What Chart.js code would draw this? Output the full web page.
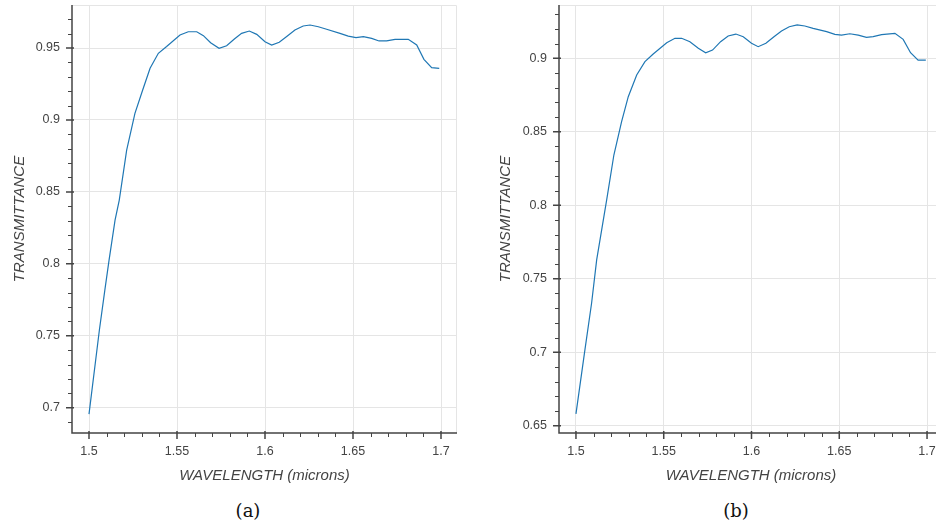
<!DOCTYPE html>
<html>
<head>
<meta charset="utf-8">
<script src="https://cdn.jsdelivr.net/npm/chart.js@4"></script>
<style>
  html, body { margin: 0; padding: 0; background: #fff; width: 936px; height: 527px; overflow: hidden; position: relative; }
  canvas { position: absolute; top: 0; }
  #cA { left: 0; }
  #cB { left: 470px; }
  .cap { position: absolute; font-family: "DejaVu Serif", serif; font-size: 18px; color: #111; text-align: center; width: 60px; top: 500px; }
</style>
</head>
<body>
<canvas id="cA" width="470" height="490"></canvas>
<canvas id="cB" width="480" height="490"></canvas>
<div class="cap" style="left:218px">(a)</div>
<div class="cap" style="left:706px">(b)</div>
<script>
// ---- data ----
const wavelengthA = [1.5, 1.5059, 1.509, 1.5114, 1.5148, 1.5172, 1.5214, 1.5261, 1.5305, 1.5347, 1.5394, 1.5441, 1.5517, 1.5564, 1.5612, 1.565, 1.5691, 1.5739, 1.5782, 1.5826, 1.5867, 1.5911, 1.5953, 1.6, 1.6038, 1.6081, 1.6127, 1.617, 1.6217, 1.6256, 1.6303, 1.635, 1.6426, 1.6473, 1.6517, 1.6559, 1.6606, 1.6648, 1.6691, 1.6739, 1.6814, 1.6862, 1.6903, 1.6947, 1.699];
const transA = [0.6955, 0.754, 0.7817, 0.8026, 0.8304, 0.8443, 0.879, 0.9046, 0.9208, 0.9359, 0.9463, 0.951, 0.959, 0.9613, 0.9613, 0.9586, 0.9537, 0.9498, 0.9516, 0.9563, 0.9602, 0.9618, 0.9595, 0.9544, 0.9521, 0.954, 0.9583, 0.9625, 0.9653, 0.966, 0.9648, 0.963, 0.9602, 0.9583, 0.9572, 0.9579, 0.9567, 0.9549, 0.9549, 0.956, 0.956, 0.9521, 0.9421, 0.9363, 0.9359];

const wavelengthB = [1.5, 1.5051, 1.5089, 1.5118, 1.5175, 1.5216, 1.526, 1.5298, 1.5346, 1.5393, 1.544, 1.5517, 1.5564, 1.5602, 1.5649, 1.5697, 1.5739, 1.5778, 1.5824, 1.5867, 1.5911, 1.5953, 1.6, 1.6038, 1.6082, 1.6128, 1.6171, 1.6215, 1.626, 1.6304, 1.6351, 1.6428, 1.6475, 1.6513, 1.656, 1.6608, 1.6655, 1.6693, 1.6741, 1.6817, 1.6864, 1.6906, 1.6949, 1.6993];
const transB = [0.658, 0.7016, 0.7333, 0.7628, 0.8036, 0.8342, 0.8569, 0.8739, 0.8886, 0.8977, 0.9029, 0.9106, 0.9136, 0.9136, 0.9113, 0.9068, 0.9038, 0.9056, 0.9113, 0.9152, 0.9165, 0.9147, 0.9102, 0.9079, 0.9102, 0.9147, 0.9186, 0.9215, 0.9227, 0.922, 0.9204, 0.9181, 0.9163, 0.9158, 0.9167, 0.9158, 0.9143, 0.9147, 0.9161, 0.917, 0.9129, 0.9038, 0.8988, 0.8988];

const xTicks = [1.5, 1.55, 1.6, 1.65, 1.7];
const yTicksA = [0.7, 0.75, 0.8, 0.85, 0.9, 0.95];
const yTicksB = [0.65, 0.7, 0.75, 0.8, 0.85, 0.9];
const minorStep = 0.01;

const xTitle = 'WAVELENGTH (microns)';
const yTitle = 'TRANSMITTANCE';

// ---- styling ----
const AXIS_COLOR = '#444';
const TEXT_COLOR = '#444';
const GRID_COLOR = '#e5e5e5';
const LINE_COLOR = '#1f77b4';

function fmt(v) { return String(parseFloat(Number(v).toFixed(3))); }

const bokehAxes = {
  id: 'bokehAxes',
  afterDraw(chart) {
    const {ctx, chartArea: a, scales: {x, y}} = chart;
    ctx.save();
    // outline (top & right)
    ctx.strokeStyle = GRID_COLOR;
    ctx.lineWidth = 1;
    ctx.beginPath();
    ctx.moveTo(a.left, a.top + 0.5); ctx.lineTo(a.right - 0.5, a.top + 0.5); ctx.lineTo(a.right - 0.5, a.bottom);
    ctx.stroke();
    // axis lines
    ctx.strokeStyle = AXIS_COLOR;
    ctx.lineWidth = 1.5;
    ctx.beginPath();
    ctx.moveTo(a.left, a.top); ctx.lineTo(a.left, a.bottom); ctx.lineTo(a.right, a.bottom);
    ctx.stroke();
    // major ticks
    ctx.lineWidth = 1.5;
    ctx.beginPath();
    x.ticks.forEach(t => { const px = x.getPixelForValue(t.value); ctx.moveTo(px, a.bottom - 2); ctx.lineTo(px, a.bottom + 6); });
    y.ticks.forEach(t => { const py = y.getPixelForValue(t.value); ctx.moveTo(a.left + 2, py); ctx.lineTo(a.left - 6, py); });
    ctx.stroke();
    // minor ticks
    ctx.lineWidth = 1;
    ctx.beginPath();
    for (let k = Math.ceil(x.min / minorStep - 1e-6); k * minorStep <= x.max + 1e-9; k++) {
      const v = k * minorStep;
      if (x.ticks.some(t => Math.abs(t.value - v) < 1e-6)) continue;
      const px = Math.round(x.getPixelForValue(v)) + 0.5;
      ctx.moveTo(px, a.bottom); ctx.lineTo(px, a.bottom + 4);
    }
    for (let k = Math.ceil(y.min / minorStep - 1e-6); k * minorStep <= y.max + 1e-9; k++) {
      const v = k * minorStep;
      if (y.ticks.some(t => Math.abs(t.value - v) < 1e-6)) continue;
      const py = Math.round(y.getPixelForValue(v)) + 0.5;
      ctx.moveTo(a.left, py); ctx.lineTo(a.left - 4, py);
    }
    ctx.stroke();
    ctx.restore();
  }
};

function makeChart(id, xs, ys, yTicks, yMin, yMax, yAxisWidth, yTitlePad, padRight) {
  const pts = xs.map((v, i) => ({x: v, y: ys[i]}));
  return new Chart(document.getElementById(id), {
    type: 'line',
    data: { datasets: [{ data: pts, borderColor: LINE_COLOR, borderWidth: 1.2, pointRadius: 0, tension: 0, fill: false }] },
    options: {
      responsive: false,
      animation: false,
      devicePixelRatio: 1,
      layout: { padding: { top: 5, right: padRight, bottom: 0, left: 0 } },
      plugins: { legend: { display: false }, tooltip: { enabled: false } },
      scales: {
        x: {
          type: 'linear',
          min: 1.49034, max: 1.70909,
          afterBuildTicks: s => { s.ticks = xTicks.map(v => ({value: v})); },
          afterFit: s => { s.height = 57; s.paddingLeft = 0; s.paddingRight = 0; },
          grid: { color: GRID_COLOR, lineWidth: 1, drawTicks: false },
          border: { display: false },
          ticks: { autoSkip: false, maxRotation: 0, padding: 11, color: TEXT_COLOR,
                   font: { family: 'Liberation Sans, Arial, sans-serif', size: 12.5 }, callback: v => fmt(v) },
          title: { display: true, text: xTitle, color: TEXT_COLOR, padding: { top: 0, bottom: 5 },
                   font: { family: 'Liberation Sans, Arial, sans-serif', size: 15, style: 'italic', weight: 'normal' } }
        },
        y: {
          type: 'linear',
          min: yMin, max: yMax,
          afterBuildTicks: s => { s.ticks = yTicks.map(v => ({value: v})); },
          afterFit: s => { s.width = yAxisWidth; s.paddingTop = 0; s.paddingBottom = 0; },
          grid: { color: GRID_COLOR, lineWidth: 1, drawTicks: false },
          border: { display: false },
          ticks: { autoSkip: false, padding: 12, color: TEXT_COLOR,
                   font: { family: 'Liberation Sans, Arial, sans-serif', size: 12.5 }, callback: v => fmt(v) },
          title: { display: true, text: yTitle, color: TEXT_COLOR, padding: { top: yTitlePad, bottom: 0 },
                   font: { family: 'Liberation Sans, Arial, sans-serif', size: 15, style: 'italic', weight: 'normal' } }
        }
      }
    },
    plugins: [bokehAxes]
  });
}

makeChart('cA', wavelengthA, transA, yTicksA, 0.68242, 0.97989, 72, 11, 13);
makeChart('cB', wavelengthB, transB, yTicksB, 0.64503, 0.93627, 89, 27, 7);
</script>
</body>
</html>
